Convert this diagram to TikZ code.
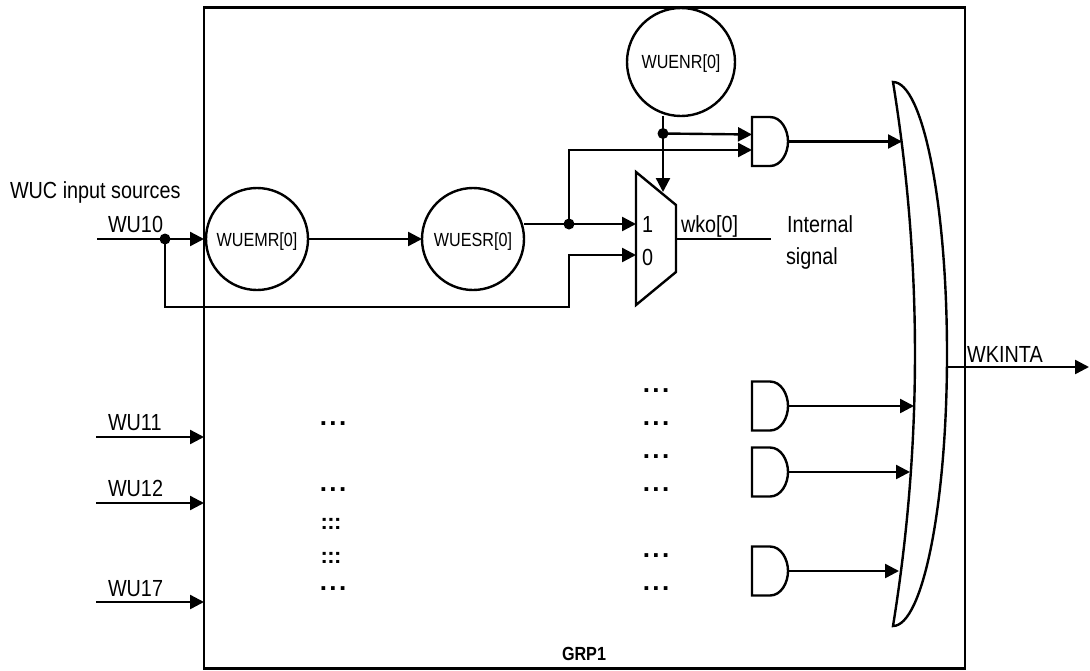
\documentclass[tikz,border=0pt]{standalone}
\usepackage{fontspec}
\setmainfont[FakeStretch=0.85]{Liberation Sans}
\newfontfamily\dotfont{Liberation Sans}
\usetikzlibrary{arrows.meta,calc}
\newcommand{\hdots}{\dotfont\bfseries.\kern2.4pt.\kern2.4pt.}
\newcommand{\vdotsrow}{\dotfont\bfseries:\kern-0.6pt:\kern-0.6pt:}
\tikzset{
  wire/.style={line width=2.4pt},
  arr/.style={line width=2.4pt,-{Triangle[length=14pt,width=14pt]}},
  lbl/.style={inner sep=0pt,outer sep=0pt,font=\fontsize{23.3}{26}\selectfont},
  reglbl/.style={font=\fontsize{19}{22}\selectfont},
  reg/.style={draw,circle,line width=2.4pt,inner sep=0pt,outer sep=0pt,minimum size=#1},
  jdot/.style={fill=black,circle,inner sep=0pt,outer sep=0pt,minimum size=11pt},
  gate/.style={line width=2.4pt,line join=miter},
  dotsl/.style={inner sep=0pt,outer sep=0pt,anchor=base,font=\fontsize{26}{28}\selectfont},
  colsl/.style={inner sep=0pt,outer sep=0pt,anchor=base,font=\fontsize{22}{24}\selectfont}
}
\newcommand{\andgate}[2]{% name, centre y
  \draw[gate] (752,#2-24.5) -- (770,#2-24.5) .. controls (781,#2-24.5) and (788,#2-12) .. (788,#2)
     .. controls (788,#2+12) and (781,#2+24.5) .. (770,#2+24.5) -- (752,#2+24.5) -- cycle;
  \coordinate (#1out) at (788,#2);
}
\begin{document}
\begin{tikzpicture}[x=1pt,y=-1pt]
\useasboundingbox (0,0) rectangle (1090,670);
% group box
\node[draw,line width=2.4pt,inner sep=0pt,outer sep=0pt,minimum width=761pt,minimum height=661pt] (box) at (584.5,338) {};
\node[lbl,anchor=base,font=\bfseries\fontsize{19}{22}\selectfont] (grp) at (584,660) {GRP1};
% registers
\node[reg=102pt] (emr) at (257,239) {};
\node[reg=102pt] (esr) at (473,239) {};
\node[reg=108pt] (enr) at (681,62) {};
\node[lbl,reglbl,anchor=base] (emrt) at (257,246) {WUEMR[0]};
\node[lbl,reglbl,anchor=base] (esrt) at (473,246) {WUESR[0]};
\node[lbl,reglbl,anchor=base] (enrt) at (681,68) {WUENR[0]};
% mux
\draw[gate] (636,172) -- (676,205) -- (676,272) -- (636,305) -- cycle;
\coordinate (muxtop) at (663,192);
\coordinate (mux1) at (636,224);
\coordinate (mux0) at (636,255);
\coordinate (muxout) at (676,239);
\node[lbl,anchor=base west] (m1) at (642,232) {1};
\node[lbl,anchor=base west] (m0) at (642,265) {0};
% and gates
\andgate{ga}{141.5}
\andgate{gb}{406}
\andgate{gc}{472}
\andgate{gd}{571}
\coordinate (gain1) at (752,134.5);
\coordinate (gain2) at (752,150);
% or gate
\draw[gate] (893,82) .. controls (922.3,263) and (922.3,445) .. (893,626)
   .. controls (922.8,626) and (947,504.2) .. (947,354)
   .. controls (947,203.8) and (922.8,82) .. (893,82) -- cycle;
\coordinate (orA) at (902,141.5);
\coordinate (orB) at (914,406);
\coordinate (orC) at (910,472);
\coordinate (orD) at (899,571);
\coordinate (orout) at (946,367);
\coordinate (wkend) at (1089,367);
\node[lbl,anchor=base] (wk) at (1005,362) {WKINTA};
% junctions
\node[jdot] (j0) at (165,239) {};
\node[jdot] (j1) at (569,224) {};
\node[jdot] (j2) at (663,133.5) {};
% input wires
\coordinate (in10) at (97,239);
\coordinate (in11) at (96,437);
\coordinate (in12) at (96,503);
\coordinate (in17) at (96,602);
\node[lbl,anchor=base west] (wuc) at (10,198) {WUC input sources};
\node[lbl,anchor=base west] (wu10) at (108,232) {WU10};
\node[lbl,anchor=base west] (wu11) at (108,430) {WU11};
\node[lbl,anchor=base west] (wu12) at (108,496) {WU12};
\node[lbl,anchor=base west] (wu17) at (108,596) {WU17};
\draw[arr] (in10) -- (box.west |- in10);
\draw[arr] (in11) -- (box.west |- in11);
\draw[arr] (in12) -- (box.west |- in12);
\draw[arr] (in17) -- (box.west |- in17);
% connectors
\draw[arr] (emr.east) -- (esr.west);
\draw[wire,line join=miter] (j0.center) -- (165,307) -- (569,307) -- (569,255) -- (580,255);
\draw[arr] (569,255) -- (mux0);
\draw[arr] (esr.east |- mux1) -- (mux1);
\draw[arr] (j1.center) -- (569,150) -- (gain2);
\draw[arr] (enr.south -| j2) -- (muxtop);
\draw[arr] (j2.center) -- (gain1);
\draw[arr] (gaout) -- (orA);
\draw[arr] (gbout) -- (orB);
\draw[arr] (gcout) -- (orC);
\draw[arr] (gdout) -- (orD);
\draw[arr] (orout) -- (wkend);
\draw[wire] (muxout) -- (771,239);
\node[lbl,anchor=base west] (wko) at (681,232) {wko[0]};
\node[lbl,anchor=base west] (int1) at (787,232) {Internal};
\node[lbl,anchor=base west] (int2) at (786,264) {signal};
% ellipses
\node[dotsl] (d1) at (656,392) {\hdots};
\node[dotsl] (d2) at (656,425) {\hdots};
\node[dotsl] (d3) at (656,458) {\hdots};
\node[dotsl] (d4) at (656,491) {\hdots};
\node[dotsl] (d5) at (656,557) {\hdots};
\node[dotsl] (d6) at (656,590) {\hdots};
\node[dotsl] (l1) at (333,425) {\hdots};
\node[dotsl] (l2) at (333,491) {\hdots};
\node[dotsl] (l3) at (333,590) {\hdots};
\node[colsl] (c1) at (331,529) {\vdotsrow};
\node[colsl] (c2) at (331,563) {\vdotsrow};
\end{tikzpicture}
\end{document}
